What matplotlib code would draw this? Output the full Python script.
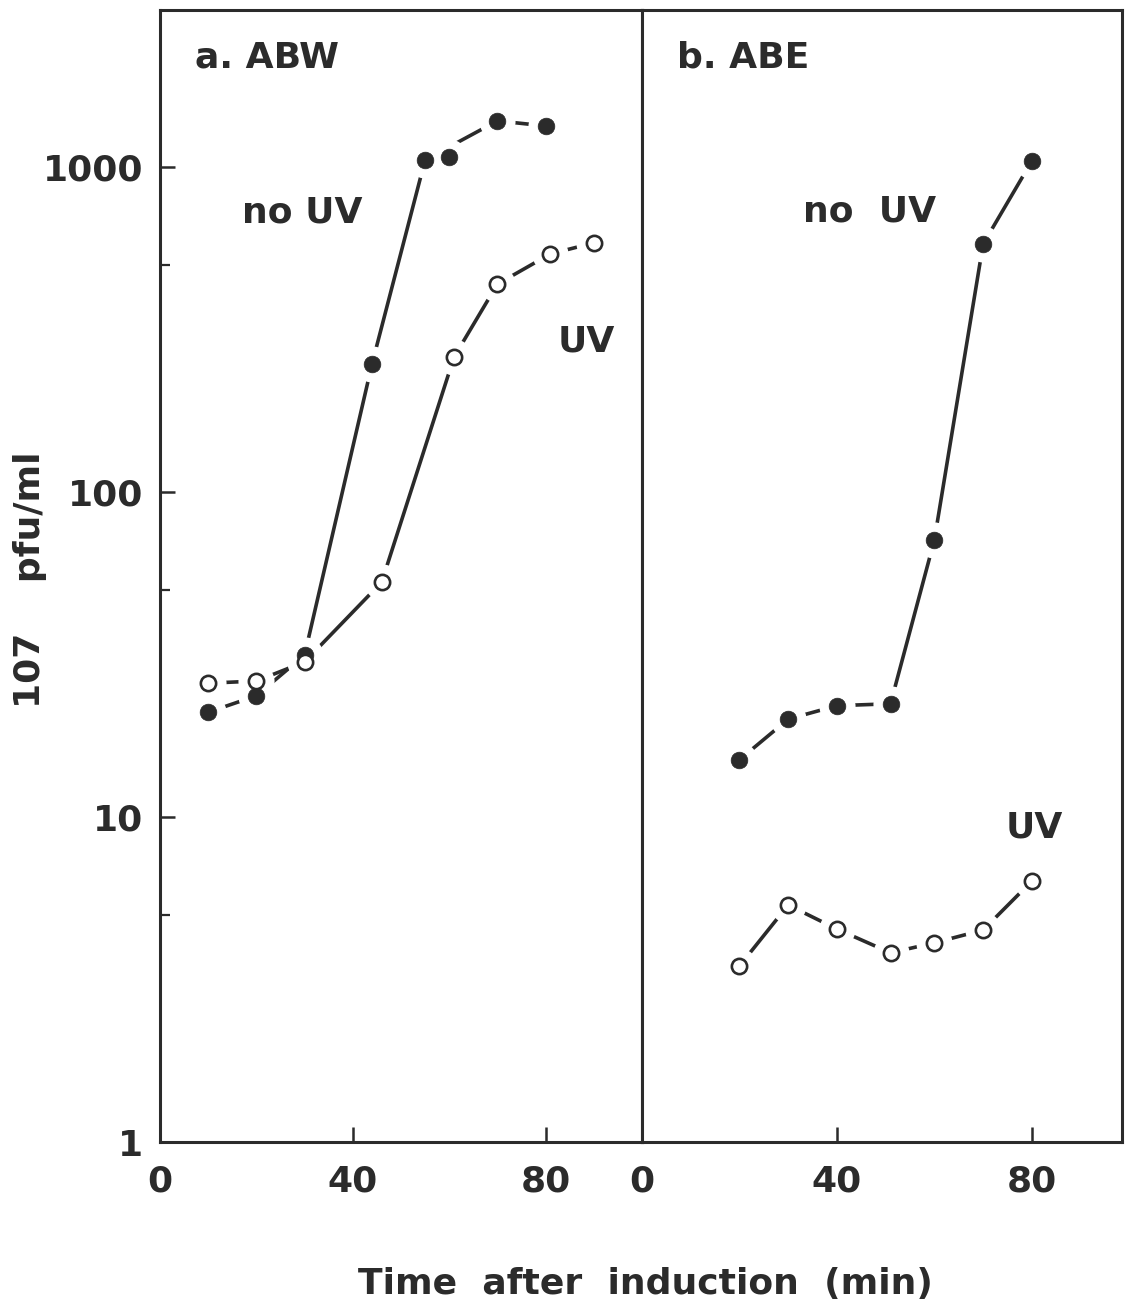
import matplotlib
matplotlib.use("Agg")
import matplotlib.pyplot as plt
from matplotlib.ticker import FixedLocator, NullFormatter, FixedFormatter

# ---------------- data ----------------
# panel a (ABW)
a_noUV_t = [10, 20, 30, 44, 55, 60, 70, 80]
a_noUV_v = [21.0, 23.6, 31.5, 248, 1051, 1073, 1386, 1337]
a_noUV_connected = [True, True, True, True, True, False, True, True]
a_UV_t = [10, 20, 30, 46, 61, 70, 81, 90]
a_UV_v = [25.8, 26.2, 30.0, 52.8, 260, 436, 540, 584]

# panel b (ABE)
b_noUV_t = [20, 30, 40, 51, 60, 70, 80]
b_noUV_v = [15.0, 20.0, 22.0, 22.3, 71.2, 579, 1043]
b_UV_t = [20, 30, 40, 51, 60, 70, 80]
b_UV_v = [3.48, 5.36, 4.52, 3.82, 4.10, 4.49, 6.35]

y_major = [1, 10, 100, 1000]
y_major_labels = ["1", "10", "100", "1000"]
y_minor = [5, 50, 500]
x_ticks = [0, 40, 80]
x_tick_labels = ["0", "40", "80"]

INK = "#2b2b2b"
FS = 26
FW = 'bold'

plt.rcParams['font.family'] = ['DejaVu Sans']
plt.rcParams['font.weight'] = FW

fig = plt.figure(figsize=(11.30, 13.09), dpi=100)
W, H = 1130, 1309
axa = fig.add_axes([160 / W, 1 - 1142 / H, 482 / W, 1132 / H])
axb = fig.add_axes([642 / W, 1 - 1142 / H, 480 / W, 1132 / H])


def series(ax, t, v, filled, connected=None):
    if connected is None:
        connected = [True] * len(t)
    lt = [x for x, c in zip(t, connected) if c]
    lv = [y for y, c in zip(v, connected) if c]
    ax.plot(lt, lv, color=INK, lw=2.6, solid_capstyle='butt', zorder=1)
    # white halo to create the gaps around markers
    ax.plot(t, v, ls='none', marker='o', ms=26, mfc='white', mec='white',
            mew=0, zorder=2)
    if filled:
        ax.plot(t, v, ls='none', marker='o', ms=12, mfc=INK, mec=INK,
                mew=0.5, zorder=3)
    else:
        ax.plot(t, v, ls='none', marker='o', ms=11, mfc='white', mec=INK,
                mew=1.9, zorder=3)


series(axa, a_noUV_t, a_noUV_v, True, a_noUV_connected)
series(axa, a_UV_t, a_UV_v, False)
series(axb, b_noUV_t, b_noUV_v, True)
series(axb, b_UV_t, b_UV_v, False)

for ax, xmax in ((axa, 100), (axb, 98.5)):
    ax.set_yscale('log')
    ax.set_ylim(1, 3040)
    ax.set_xlim(0, xmax)
    for s in ax.spines.values():
        s.set_linewidth(2.2)
        s.set_color(INK)
    ax.xaxis.set_major_locator(FixedLocator(x_ticks))
    ax.xaxis.set_major_formatter(FixedFormatter(x_tick_labels))
    ax.xaxis.set_minor_locator(FixedLocator([]))
    ax.tick_params(axis='x', direction='in', length=11, width=1.8,
                   colors=INK, labelsize=FS, pad=16, top=False)

axa.yaxis.set_major_locator(FixedLocator(y_major))
axa.yaxis.set_major_formatter(FixedFormatter(y_major_labels))
axa.yaxis.set_minor_locator(FixedLocator(y_minor))
axa.yaxis.set_minor_formatter(NullFormatter())
axa.tick_params(axis='y', which='major', direction='in', length=11,
                width=1.8, colors=INK, labelsize=FS, pad=12, right=False)
axa.tick_params(axis='y', which='minor', direction='in', length=7,
                width=1.6, colors=INK, right=False)

axb.yaxis.set_major_locator(FixedLocator([]))
axb.yaxis.set_minor_locator(FixedLocator([]))
axb.tick_params(axis='y', left=False, right=False, labelleft=False)

txt = dict(color=INK, fontsize=FS, fontweight=FW, va='center', ha='left')
axa.text(0.072, 0.958, "a. ABW", transform=axa.transAxes, **txt)
axa.text(0.170, 0.821, "no UV", transform=axa.transAxes, **txt)
axa.text(0.825, 0.707, "UV", transform=axa.transAxes, **txt)
axb.text(0.073, 0.958, "b. ABE", transform=axb.transAxes, **txt)
axb.text(0.336, 0.822, "no  UV", transform=axb.transAxes, **txt)
axb.text(0.757, 0.278, "UV", transform=axb.transAxes, **txt)

fig.text(645 / W, 1 - 1284 / H, "Time  after  induction  (min)", color=INK,
         fontsize=FS, fontweight=FW, ha='center', va='center')
fig.text(30 / W, 1 - 580 / H, "107    pfu/ml", color=INK, fontsize=FS,
         fontweight=FW, ha='center', va='center', rotation=90)

fig.savefig("out.png", dpi=100, facecolor='white')
